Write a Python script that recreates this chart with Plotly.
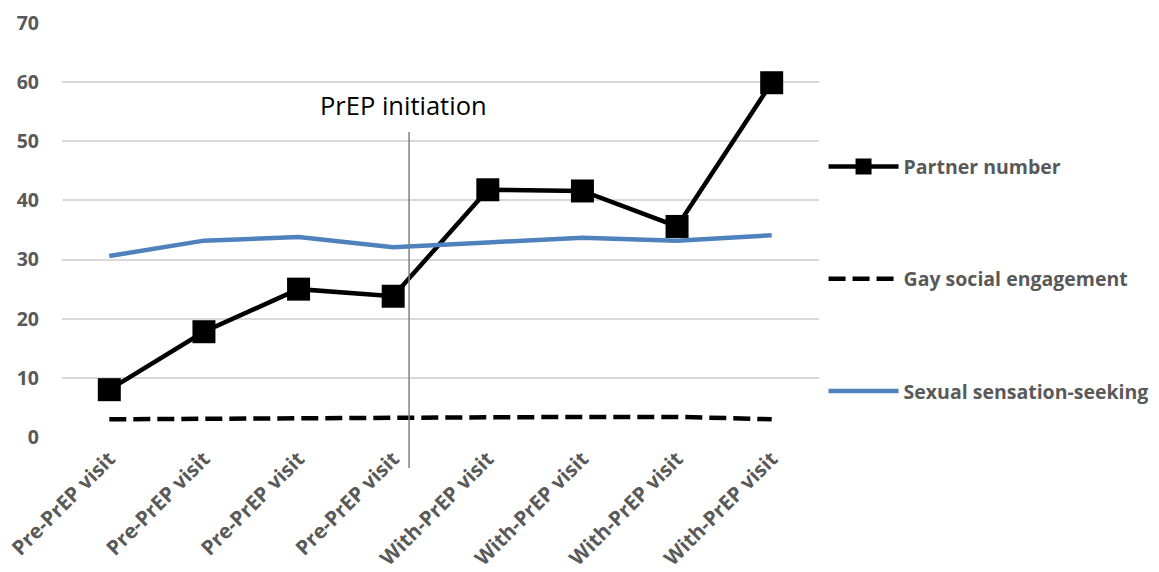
import plotly.graph_objects as go

# Visit labels along the x axis (four before PrEP start, four after)
visits = ["Pre-PrEP visit"] * 4 + ["With-PrEP visit"] * 4

partner_number = [8.0, 17.8, 25.0, 23.8, 41.8, 41.6, 35.6, 59.9]
gay_social_engagement = [3.0, 3.1, 3.2, 3.2, 3.3, 3.4, 3.4, 3.0]
sexual_sensation_seeking = [30.6, 33.2, 33.8, 32.1, 32.9, 33.7, 33.2, 34.1]

y_ticks = [0, 10, 20, 30, 40, 50, 60, 70]

x_pos = list(range(len(visits)))
label_font = dict(family="Open Sans, sans-serif", size=19.5, color="#595959")
xtick_font = dict(family="Open Sans, sans-serif", size=20.5, color="#595959")

fig = go.Figure()

fig.add_trace(go.Scatter(
    x=x_pos, y=partner_number, name="<b>Partner number</b>",
    mode="lines+markers", legendgroup="a",
    line=dict(color="#000000", width=4.5),
    marker=dict(symbol="square", size=23, color="#000000"),
))
fig.add_trace(go.Scatter(
    x=x_pos, y=gay_social_engagement, name="<b>Gay social engagement</b>",
    mode="lines", legendgroup="b",
    line=dict(color="#000000", width=4.5, dash="17px,7px"),
))
fig.add_trace(go.Scatter(
    x=x_pos, y=sexual_sensation_seeking, name="<b>Sexual sensation-seeking</b>",
    mode="lines", legendgroup="c",
    line=dict(color="#4f81bd", width=4.5),
))

# PrEP initiation marker line and its caption
fig.add_shape(type="line", xref="paper", yref="paper",
              x0=0.4585, x1=0.4585, y0=-0.075, y1=0.737,
              line=dict(color="#808080", width=1.5))
fig.add_annotation(text="PrEP initiation", xref="paper", yref="paper",
                   x=0.4505, y=0.803, showarrow=False, xanchor="center",
                   yanchor="middle",
                   font=dict(family="Open Sans, sans-serif", size=25.5,
                             color="#000000"))

fig.update_layout(
    width=1159, height=572,
    margin=dict(l=62, r=340, t=23, b=135, autoexpand=False),
    paper_bgcolor="white", plot_bgcolor="white",
    showlegend=True,
    legend=dict(
        x=1.006, xanchor="left", y=0.70, yanchor="top",
        font=label_font, tracegroupgap=84, itemwidth=70,
        bgcolor="rgba(0,0,0,0)",
    ),
    xaxis=dict(
        range=[-0.5, 7.5], tickmode="array", tickvals=x_pos,
        ticktext=[f"<b>{v}</b>" for v in visits], tickangle=-45,
        tickfont=xtick_font, showgrid=False, zeroline=False,
        showline=False, ticks="", automargin=False,
        ticklabelstandoff=5,
    ),
    yaxis=dict(
        range=[0, 70], tickmode="array", tickvals=y_ticks,
        ticktext=[f"<b>{v}</b>" for v in y_ticks],
        tickfont=label_font, showgrid=True, gridcolor="#d9d9d9",
        gridwidth=1.5, zeroline=False, showline=False, ticks="",
        ticklabelstandoff=22, automargin=False,
    ),
)

fig.write_html("out.html")
